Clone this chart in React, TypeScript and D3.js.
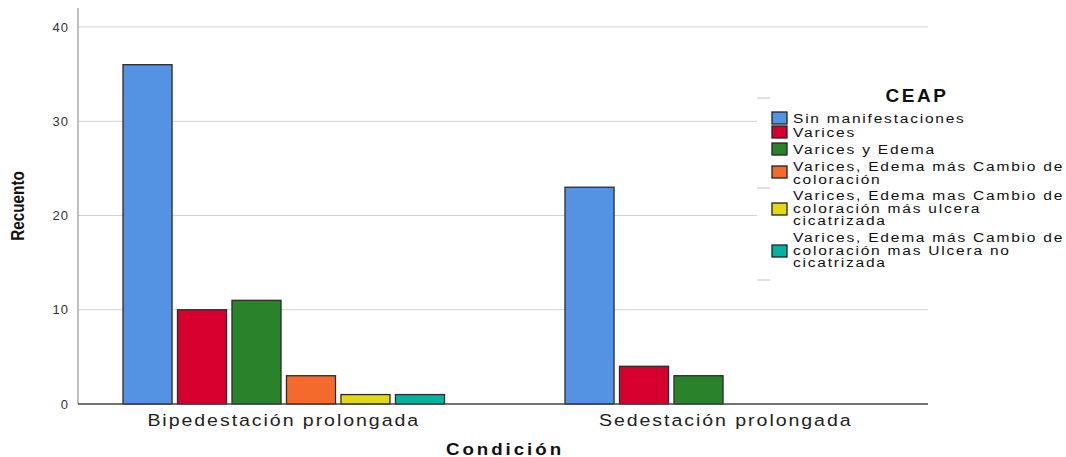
import { useRef, useEffect } from 'react';
import { select, scaleBand, scaleLinear } from 'd3';

const categories = ['Bipedestación prolongada', 'Sedestación prolongada'];
const series = [
  'Sin manifestaciones',
  'Varices',
  'Varices y Edema',
  'Varices, Edema más Cambio de coloración',
  'Varices, Edema mas Cambio de coloración más ulcera cicatrizada',
  'Varices, Edema más Cambio de coloración mas Ulcera no cicatrizada',
];
const legendLines = [
  ['Sin manifestaciones'],
  ['Varices'],
  ['Varices y Edema'],
  ['Varices, Edema más Cambio de', 'coloración'],
  ['Varices, Edema mas Cambio de', 'coloración más ulcera', 'cicatrizada'],
  ['Varices, Edema más Cambio de', 'coloración mas Ulcera no', 'cicatrizada'],
];
const colors = ['#5493e4', '#d6002f', '#2a822a', '#f36a2c', '#e2d914', '#00b4a0'];
const bipedestacion = [36, 10, 11, 3, 1, 1];
const sedestacion = [23, 4, 3, 0, 0, 0];
const yTicks = [0, 10, 20, 30, 40];

const W = 1066;
const H = 457;
const left = 78;
const right = 928;
const top = 8;
const bottom = 404;
const groupWidth = 321.5;

export default function App() {
  const svgRef = useRef(null);

  useEffect(() => {
    const svg = select(svgRef.current);
    svg.selectAll('*').remove();
    const font = 'Liberation Sans, Arial, sans-serif';

    const y = scaleLinear().domain([0, 40]).range([bottom, 27]);
    const x0 = scaleBand<string>().domain(categories).range([62.75, 946.75]);
    const x1 = scaleBand<string>().domain(series).range([0, groupWidth]).paddingInner(0.1);
    const values = [bipedestacion, sedestacion];

    // grid
    svg
      .append('g')
      .selectAll('line')
      .data(yTicks.filter((d) => d > 0))
      .join('line')
      .attr('x1', left)
      .attr('x2', right)
      .attr('y1', (d) => y(d))
      .attr('y2', (d) => y(d))
      .attr('stroke', '#d2d2d2')
      .attr('stroke-width', 1.2);

    // y axis line
    svg.append('line').attr('x1', left).attr('x2', left).attr('y1', top).attr('y2', bottom).attr('stroke', '#aaa').attr('stroke-width', 1.5);

    svg
      .append('g')
      .selectAll('text')
      .data(yTicks)
      .join('text')
      .attr('x', left - 9)
      .attr('y', (d) => y(d) + 4.5)
      .attr('text-anchor', 'end')
      .attr('font-family', font)
      .attr('font-size', 13)
      .attr('letter-spacing', 1)
      .attr('fill', '#333')
      .text((d) => d);

    // bars
    categories.forEach((c, ci) => {
      const center = x0(c)! + x0.bandwidth() / 2;
      const cx = center - groupWidth / 2;
      svg
        .append('g')
        .selectAll('rect')
        .data(values[ci].map((v, i) => ({ v, s: series[i], color: colors[i] })).filter((d) => d.v > 0))
        .join('rect')
        .attr('x', (d) => cx + x1(d.s)!)
        .attr('y', (d) => y(d.v))
        .attr('width', x1.bandwidth())
        .attr('height', (d) => bottom - y(d.v))
        .attr('fill', (d) => d.color)
        .attr('stroke', '#2b2b2b')
        .attr('stroke-width', 1.3);
      svg
        .append('text')
        .attr('transform', `translate(${center}, ${bottom + 22}) scale(1.15,1)`)
        .attr('text-anchor', 'middle')
        .attr('font-family', font)
        .attr('font-size', 17)
        .attr('letter-spacing', 1.7)
        .attr('fill', '#222')
        .text(c);
    });

    // x axis line
    svg.append('line').attr('x1', left).attr('x2', right).attr('y1', bottom).attr('y2', bottom).attr('stroke', '#444').attr('stroke-width', 1.3);

    // axis titles
    svg
      .append('text')
      .attr('transform', `translate(24, 206) rotate(-90) scale(0.85,1)`)
      .attr('text-anchor', 'middle')
      .attr('font-family', font)
      .attr('font-weight', 'bold')
      .attr('font-size', 18)
      .attr('fill', '#111')
      .text('Recuento');
    svg
      .append('text')
      .attr('transform', 'translate(505, 455) scale(1.1,1)')
      .attr('text-anchor', 'middle')
      .attr('font-family', font)
      .attr('font-weight', 'bold')
      .attr('font-size', 17)
      .attr('letter-spacing', 2.7)
      .attr('fill', '#111')
      .text('Condición');

    // legend
    const lg = svg.append('g');
    lg.append('rect').attr('x', 757).attr('y', 78).attr('width', 309).attr('height', 215).attr('fill', '#fff');
    [98, 188, 280].forEach((yy) => {
      lg.append('line').attr('x1', 757).attr('x2', 770).attr('y1', yy).attr('y2', yy).attr('stroke', '#ccc').attr('stroke-width', 1.2);
    });
    lg.append('text')
      .attr('x', 917)
      .attr('y', 102)
      .attr('text-anchor', 'middle')
      .attr('font-family', font)
      .attr('font-weight', 'bold')
      .attr('font-size', 19)
      .attr('letter-spacing', 2.5)
      .attr('fill', '#111')
      .text('CEAP');
    const swatchY = [118, 132, 149, 172, 209, 251];
    const firstLineY = [123, 137, 154, 171, 200, 242];
    const lh = 12.6;
    series.forEach((s, i) => {
      lg.append('rect')
        .attr('x', 772)
        .attr('y', swatchY[i] - 6)
        .attr('width', 15)
        .attr('height', 12)
        .attr('fill', colors[i])
        .attr('stroke', '#222')
        .attr('stroke-width', 1.3);
      const t = lg
        .append('text')
        .attr('transform', 'translate(793, 0) scale(1.15,1)')
        .attr('font-family', font)
        .attr('font-size', 13.5)
        .attr('letter-spacing', 1.55)
        .attr('fill', '#111');
      legendLines[i].forEach((ln, j) => {
        t.append('tspan').attr('x', 0).attr('y', firstLineY[i] + j * lh).text(ln);
      });
    });
  }, []);

  return <svg ref={svgRef} width={W} height={H} style={{ position: 'absolute', left: 0, top: 0, background: '#fff' }} />;
}
